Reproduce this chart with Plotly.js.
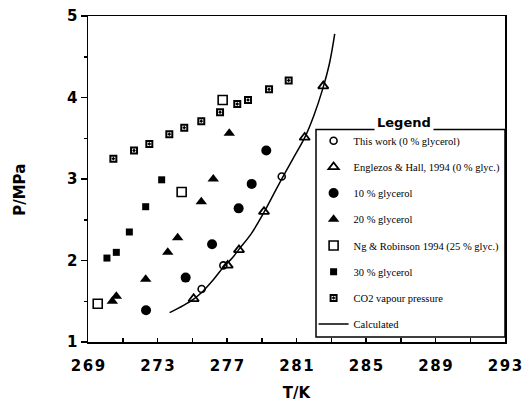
<!DOCTYPE html>
<html>
<head>
<meta charset="utf-8">
<script src="https://cdn.plot.ly/plotly-3.0.1.min.js"></script>
<style>html,body{margin:0;padding:0;background:#fff;}#chart{width:524px;height:402px;}</style>
</head>
<body>
<div id="chart"></div>
<script>
// ---- data ----
var thisWorkT = [275.54, 276.79, 280.15];
var thisWorkP = [1.65, 1.94, 3.03];

var englezosT = [275.08, 277.04, 277.69, 279.13, 281.47, 282.54];
var englezosP = [1.53, 1.94, 2.13, 2.60, 3.51, 4.14];

var gly10T = [272.34, 274.62, 276.14, 277.67, 278.42, 279.26];
var gly10P = [1.39, 1.79, 2.20, 2.64, 2.94, 3.35];

var gly20T = [270.40, 270.63, 272.32, 273.59, 274.16, 275.52, 276.21, 277.13];
var gly20P = [1.50, 1.56, 1.77, 2.10, 2.28, 2.72, 3.00, 3.56];

var ngT = [269.56, 274.39, 276.75];
var ngP = [1.47, 2.84, 3.97];

var gly30T = [270.09, 270.63, 271.38, 272.32, 273.24];
var gly30P = [2.03, 2.10, 2.35, 2.66, 2.99];

var co2T = [270.46, 271.65, 272.53, 273.68, 274.54, 275.52, 276.60, 277.59, 278.21, 279.42, 280.55];
var co2P = [3.25, 3.35, 3.43, 3.55, 3.63, 3.71, 3.82, 3.92, 3.97, 4.10, 4.21];

var calcT = [273.7, 274.5, 275.1, 275.6, 276.2, 276.8, 277.3, 277.7, 278.4, 279.1, 279.7, 280.2, 280.8, 281.5, 282.0, 282.5, 282.9, 283.2];
var calcP = [1.36, 1.45, 1.53, 1.62, 1.76, 1.92, 2.03, 2.14, 2.33, 2.58, 2.82, 3.02, 3.25, 3.52, 3.78, 4.10, 4.42, 4.78];

var xTickVals = [269, 273, 277, 281, 285, 289, 293];
var xTickText = ["2\u200A6\u200A9", "2\u200A7\u200A3", "2\u200A7\u200A7", "2\u200A8\u200A1", "2\u200A8\u200A5", "2\u200A8\u200A9", "2\u200A9\u200A3"];

var names = ["This work (0 % glycerol)", "Englezos & Hall, 1994 (0 % glyc.)", "10 % glycerol", "20 % glycerol",
             "Ng & Robinson 1994 (25 % glyc.)", "30 % glycerol", "CO2 vapour pressure", "Calculated"];

function pts(x, y, name, sym, size, lw, g) {
  return {x: x, y: y, name: name, type: 'scatter', mode: 'markers', legendgroup: g,
          marker: {symbol: sym, size: size, color: 'black', line: {color: 'black', width: lw}},
          cliponaxis: false};
}

var traces = [
  pts(thisWorkT, thisWorkP, names[0], 'circle-open', 7, 1.6, 'a'),
  pts(englezosT, englezosP, names[1], 'triangle-up-open', 9, 1.8, 'b'),
  pts(gly10T, gly10P, names[2], 'circle', 10, 0, 'c'),
  pts(gly20T, gly20P, names[3], 'triangle-up', 10, 0, 'd'),
  pts(ngT, ngP, names[4], 'square-open', 9, 1.6, 'e'),
  pts(gly30T, gly30P, names[5], 'square', 7, 0, 'f'),
  pts(co2T, co2P, names[6], 'square-open-dot', 6, 2, 'g'),
  {x: calcT, y: calcP, name: names[7], type: 'scatter', mode: 'lines', legendgroup: 'h',
   line: {color: 'black', width: 1.5, shape: 'spline'}}
];

var tickFont = {family: 'DejaVu Sans', size: 15, weight: 'bold', color: 'black'};
var titleFont = {family: 'DejaVu Sans', size: 15, weight: 'bold', color: 'black'};

var layout = {
  width: 524, height: 402,
  margin: {l: 88, r: 19, t: 16, b: 60, pad: 0, autoexpand: false},
  paper_bgcolor: 'white', plot_bgcolor: 'white',
  showlegend: true,
  legend: {x: 0.541, y: 0.662, xanchor: 'left', yanchor: 'top',
           bgcolor: 'rgba(0,0,0,0)', borderwidth: 0, tracegroupgap: 7.2,
           traceorder: 'grouped',
           font: {family: 'Liberation Serif', size: 10.5, color: 'black'}},
  xaxis: {range: [269, 293], tickmode: 'array', tickvals: xTickVals, ticktext: xTickText,
          ticks: 'inside', ticklen: 4, tickwidth: 1.5, tickcolor: 'black', ticklabelstandoff: 9,
          minor: {tickmode: 'linear', tick0: 269, dtick: 2, ticks: 'inside', ticklen: 4, tickwidth: 1.5, tickcolor: 'black'},
          showline: true, linecolor: 'black', linewidth: 1.5, mirror: true,
          showgrid: false, zeroline: false, tickfont: tickFont, automargin: false,
          title: {text: 'T/K', font: titleFont, standoff: 21}},
  yaxis: {range: [1, 5], tickmode: 'linear', tick0: 1, dtick: 1,
          ticks: 'outside', ticklen: 6, tickwidth: 1.5, tickcolor: 'black',
          minor: {tickmode: 'linear', tick0: 1, dtick: 0.5, ticks: 'outside', ticklen: 3, tickwidth: 1.5, tickcolor: 'black'},
          showline: true, linecolor: 'black', linewidth: 1.5, mirror: true,
          showgrid: false, zeroline: false, tickfont: tickFont, automargin: false},
  shapes: [{type: 'rect', xref: 'paper', yref: 'paper', x0: 0.5468, x1: 1.0, y0: 0.0153, y1: 0.652,
            line: {color: 'black', width: 1.5}, fillcolor: 'rgba(0,0,0,0)'}],
  annotations: [
    {text: 'Legend', xref: 'paper', yref: 'paper', x: 0.758, y: 0.672,
     xanchor: 'center', yanchor: 'middle', showarrow: false, bgcolor: 'white', borderpad: 2,
     font: {family: 'DejaVu Sans', size: 13, weight: 'bold', color: 'black'}},
    {text: 'P/MPa', xref: 'paper', yref: 'paper', x: -0.163, y: 0.467, textangle: -90,
     xanchor: 'center', yanchor: 'middle', showarrow: false, font: titleFont}
  ]
};

Plotly.newPlot('chart', traces, layout, {displayModeBar: false, staticPlot: true});
</script>
</body>
</html>
